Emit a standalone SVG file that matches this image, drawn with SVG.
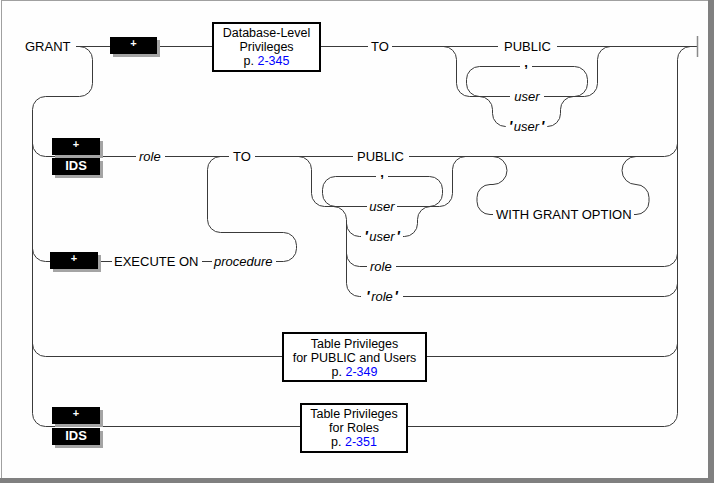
<svg xmlns="http://www.w3.org/2000/svg" width="714" height="483" viewBox="0 0 714 483">
<defs>
<style>
.t{font-family:"Liberation Sans",Arial,sans-serif;font-size:13px;fill:#000}
.bt{font-family:"Liberation Sans",Arial,sans-serif;font-size:12.5px;fill:#000;text-anchor:middle}
.i{font-style:italic}
.q{font-weight:bold;font-style:italic;font-size:15px}
.c{font-weight:bold;font-size:13px}
.ln{fill:none;stroke:#3a3a3a;stroke-width:1}
.bx{fill:#fff;stroke:#000;stroke-width:2}
.blk{fill:#000}
.sh{fill:#a4a4a4}
.wt{font-family:"Liberation Sans",Arial,sans-serif;font-weight:bold;fill:#fff;text-anchor:middle}
.lnk{fill:#0000ff}
.m{text-anchor:middle}
</style>
</defs>
<rect x="0" y="0" width="714" height="483" fill="#fefefe"/>
<rect x="1.5" y="0.5" width="707" height="478" fill="none" stroke="#a0a0a0" stroke-width="1"/>
<rect x="708" y="0" width="6" height="483" fill="#808080"/>
<rect x="0" y="478" width="714" height="5" fill="#808080"/>

<g id="connectors" class="ln">
<!-- row 1 -->
<path d="M76 46.5 L110 46.5"/>
<path d="M157 46.5 L212 46.5"/>
<path d="M321 46.5 L368 46.5"/>
<path d="M392 46.5 L498 46.5"/>
<path d="M557 46.5 L697.5 46.5"/>
<path d="M76 46.5 L79.5 46.5 A13 13 0 0 1 92.5 59.5 L92.5 83.5 A13 13 0 0 1 79.5 96.5 L45.5 96.5 A13 13 0 0 0 32.5 109.5 L32.5 413.5 A13 13 0 0 0 45.5 426.5"/>
<path d="M443.5 46.5 A13 13 0 0 1 456.5 59.5 L456.5 83.5 A13 13 0 0 0 469.5 96.5 L510 96.5"/>
<path d="M544 96.5 L584.5 96.5 A13 13 0 0 0 597.5 83.5 L597.5 59.5 A13 13 0 0 1 610.5 46.5"/>
<path d="M520 66.5 L479.5 66.5 A13 13 0 0 0 466.5 79.5 L466.5 83.5 A13 13 0 0 0 479.5 96.5"/>
<path d="M532 66.5 L574.5 66.5 A13 13 0 0 1 587.5 79.5 L587.5 83.5 A13 13 0 0 1 574.5 96.5"/>
<path d="M479.5 96.5 A13 13 0 0 1 492.5 109.5 L492.5 113.5 A13 13 0 0 0 505.5 126.5 L506 126.5"/>
<path d="M547 126.5 L547.5 126.5 A13 13 0 0 0 560.5 113.5 L560.5 109.5 A13 13 0 0 1 573.5 96.5"/>
<path d="M677.5 413.5 L677.5 59.5 A13 13 0 0 1 690.5 46.5"/>
<!-- row 2 -->
<path d="M32.5 143.5 A13 13 0 0 0 45.5 156.5 L136 156.5"/>
<path d="M165 156.5 L229 156.5"/>
<path d="M255 156.5 L353 156.5"/>
<path d="M409 156.5 L664.5 156.5 A13 13 0 0 0 677.5 143.5"/>
<path d="M298.5 156.5 A13 13 0 0 1 311.5 169.5 L311.5 193.5 A13 13 0 0 0 324.5 206.5 L367 206.5"/>
<path d="M397 206.5 L439.5 206.5 A13 13 0 0 0 452.5 193.5 L452.5 169.5 A13 13 0 0 1 465.5 156.5"/>
<path d="M376 176.5 L335.5 176.5 A13 13 0 0 0 322.5 189.5 L322.5 193.5 A13 13 0 0 0 335.5 206.5"/>
<path d="M388 176.5 L429.5 176.5 A13 13 0 0 1 442.5 189.5 L442.5 193.5 A13 13 0 0 1 429.5 206.5"/>
<path d="M333.5 206.5 A13 13 0 0 1 346.5 219.5 L346.5 283.5 A13 13 0 0 0 359.5 296.5 L361 296.5"/>
<path d="M346.5 223.5 A13 13 0 0 0 359.5 236.5 L361 236.5"/>
<path d="M346.5 253.5 A13 13 0 0 0 359.5 266.5 L367 266.5"/>
<path d="M403 236.5 L404.5 236.5 A13 13 0 0 0 417.5 223.5 L417.5 219.5 A13 13 0 0 1 430.5 206.5"/>
<path d="M396 266.5 L664.5 266.5 A13 13 0 0 0 677.5 253.5"/>
<path d="M403 296.5 L664.5 296.5 A13 13 0 0 0 677.5 283.5"/>
<path d="M493 156.5 A14 14 0 0 1 507 170.5 A14 14 0 0 1 493 184.5 L490 184.5 A13 13 0 0 0 477 197.5 L477 201.5 A13 13 0 0 0 490 214.5 L493 214.5"/>
<path d="M634 214.5 L636 214.5 A13 13 0 0 0 649 201.5 L649 197.5 A13 13 0 0 0 636 184.5 A14 14 0 0 1 622 170.5 A14 14 0 0 1 636 156.5"/>
<!-- row 3 -->
<path d="M32.5 248.5 A13 13 0 0 0 45.5 261.5 L50 261.5"/>
<path d="M98 261.5 L112 261.5"/>
<path d="M202 261.5 L212 261.5"/>
<path d="M276 261.5 L283.5 261.5 A13 13 0 0 0 296.5 248.5 L296.5 245.5 A13 13 0 0 0 283.5 232.5 L220.5 232.5 A13 13 0 0 1 207.5 219.5 L207.5 169.5 A13 13 0 0 1 220.5 156.5"/>
<!-- row 4 -->
<path d="M32.5 343.5 A13 13 0 0 0 45.5 356.5 L282 356.5"/>
<path d="M427 356.5 L664.5 356.5 A13 13 0 0 0 677.5 343.5"/>
<!-- row 5 -->
<path d="M45.5 426.5 L300 426.5"/>
<path d="M408 426.5 L664.5 426.5 A13 13 0 0 0 677.5 413.5"/>
</g>

<g id="n-grant"><text class="t" x="25" y="51">GRANT</text></g>

<g id="n-plus1">
<rect class="sh" x="113" y="40" width="47" height="17"/>
<rect class="blk" x="110" y="37" width="47" height="17"/>
<text class="wt" x="133.5" y="46.5" font-size="11">+</text>
</g>

<g id="n-dblevel">
<rect class="bx" x="213" y="23" width="107" height="48"/>
<text class="bt" x="266.5" y="36.5">Database-Level</text>
<text class="bt" x="266.5" y="50.5">Privileges</text>
<text class="bt" x="266.5" y="64.5">p. <tspan class="lnk">2-345</tspan></text>
</g>

<g id="n-to1"><text class="t m" x="380" y="51">TO</text></g>
<g id="n-public1"><text class="t" x="504" y="51">PUBLIC</text></g>
<g id="n-comma1"><text class="t c m" x="526" y="66.5">,</text></g>
<g id="n-user1"><text class="t i m" x="527" y="101">user</text></g>
<g id="n-quser1"><text class="t i m" x="526.5" y="131"><tspan class="q">'</tspan><tspan dx="1.5">user</tspan><tspan class="q" dx="1.5">'</tspan></text></g>
<g id="n-end"><line x1="697.5" y1="36" x2="697.5" y2="57" stroke="#8a8a8a" stroke-width="1.5"/></g>

<g id="n-plus-ids2">
<rect class="sh" x="55" y="141" width="48" height="17"/>
<rect class="blk" x="52" y="138" width="48" height="17"/>
<text class="wt" x="76" y="147.5" font-size="11">+</text>
<rect class="sh" x="55" y="161" width="48" height="17"/>
<rect class="blk" x="52" y="158" width="48" height="17"/>
<text class="wt" x="76" y="170" font-size="13">IDS</text>
</g>
<g id="n-role2"><text class="t i" x="139" y="161">role</text></g>
<g id="n-to2"><text class="t m" x="242" y="161">TO</text></g>
<g id="n-public2"><text class="t" x="357" y="161">PUBLIC</text></g>
<g id="n-comma2"><text class="t c m" x="382" y="176.5">,</text></g>
<g id="n-user2"><text class="t i m" x="382" y="211">user</text></g>
<g id="n-quser2"><text class="t i m" x="382" y="241"><tspan class="q">'</tspan><tspan dx="1.5">user</tspan><tspan class="q" dx="1.5">'</tspan></text></g>
<g id="n-role3"><text class="t i" x="370" y="271">role</text></g>
<g id="n-qrole"><text class="t i m" x="382" y="301"><tspan class="q">'</tspan><tspan dx="1.5">role</tspan><tspan class="q" dx="1.5">'</tspan></text></g>
<g id="n-wgo"><text class="t" x="496" y="219">WITH GRANT OPTION</text></g>

<g id="n-plus3">
<rect class="sh" x="53" y="255" width="48" height="17"/>
<rect class="blk" x="50" y="252" width="48" height="17"/>
<text class="wt" x="74" y="261.5" font-size="11">+</text>
</g>
<g id="n-execute"><text class="t" x="114" y="266">EXECUTE ON</text></g>
<g id="n-procedure"><text class="t i" x="214" y="266">procedure</text></g>

<g id="n-tp-users">
<rect class="bx" x="283" y="333" width="143" height="48"/>
<text class="bt" x="354.5" y="347.5">Table Privileges</text>
<text class="bt" x="354.5" y="361.5">for PUBLIC and Users</text>
<text class="bt" x="354.5" y="375.5">p. <tspan class="lnk">2-349</tspan></text>
</g>

<g id="n-plus-ids5">
<rect class="sh" x="55" y="410" width="48" height="17"/>
<rect class="blk" x="52" y="407" width="48" height="17"/>
<text class="wt" x="76" y="416.5" font-size="11">+</text>
<rect class="sh" x="55" y="431" width="48" height="17"/>
<rect class="blk" x="52" y="428" width="48" height="17"/>
<text class="wt" x="76" y="440" font-size="13">IDS</text>
</g>

<g id="n-tp-roles">
<rect class="bx" x="301" y="404" width="106" height="48"/>
<text class="bt" x="354" y="417.5">Table Privileges</text>
<text class="bt" x="354" y="431.5">for Roles</text>
<text class="bt" x="354" y="445.5">p. <tspan class="lnk">2-351</tspan></text>
</g>
</svg>
